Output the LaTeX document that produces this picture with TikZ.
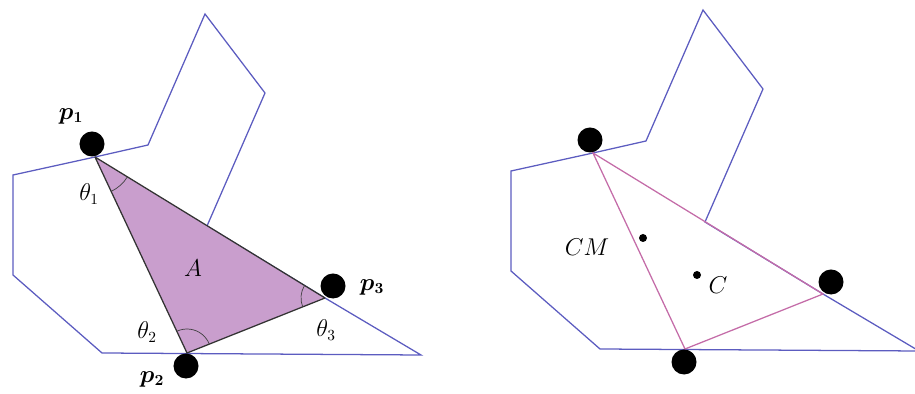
\documentclass[tikz,border=0pt]{standalone}
\usepackage{amsmath}
\usetikzlibrary{angles}
\definecolor{polyblue}{RGB}{92,92,192}
\definecolor{trifill}{RGB}{201,158,205}
\definecolor{triedge}{RGB}{196,108,168}

\begin{document}
\begin{tikzpicture}[x=0.025cm, y=0.025cm,
    every node/.style={font=\fontsize{16}{18}\selectfont},
    outline/.style={draw=polyblue, line width=0.9pt},
    vertexdot/.style={circle, fill=black, minimum size=0.625cm, inner sep=0pt},
    smalldot/.style={circle, fill=black, minimum size=0.2cm, inner sep=0pt},
    anglearc/.style={draw=black!75, line width=0.5pt}]
    \useasboundingbox (0,0) rectangle (915,394);
    % left panel: triangle with its angles
    \draw[outline] (205,380) -- (265,301) -- (207,168) -- (325,96) -- (421,39) -- (102,41)
        -- (13,119) -- (13,219) -- (95,237) -- (148,249) -- cycle;
    \coordinate (v1) at (95,237);
    \coordinate (v2) at (187,41);
    \coordinate (v3) at (325,96);
    \draw[fill=trifill, draw=black!80, line width=0.9pt, line join=round] (v1) -- (v2) -- (v3) -- cycle;
    \pic[anglearc, angle radius=0.95cm] {angle = v2--v1--v3};
    \pic[anglearc, angle radius=0.6cm] {angle = v3--v2--v1};
    \pic[anglearc, angle radius=0.6cm] {angle = v1--v3--v2};
    \node[vertexdot] (p1) at (92,250) {};
    \node[vertexdot] (p2) at (186,28) {};
    \node[vertexdot] (p3) at (333,108) {};
    \node (lp1) at (71,278) {$\boldsymbol{p_1}$};
    \node (lp2) at (152,15) {$\boldsymbol{p_2}$};
    \node (lp3) at (372,107) {$\boldsymbol{p_3}$};
    \node (th1) at (89,200) {$\theta_1$};
    \node (th2) at (147,62) {$\theta_2$};
    \node (th3) at (326,64) {$\theta_3$};
    \node (area) at (193,126) {$A$};

    % right panel: centroid and centre of mass
    \begin{scope}[shift={(498,4)}]
        \draw[outline] (205,380) -- (265,301) -- (207,168) -- (325,96) -- (421,39) -- (102,41)
            -- (13,119) -- (13,219) -- (95,237) -- (148,249) -- cycle;
        \coordinate (w1) at (95,237);
        \coordinate (w2) at (187,41);
        \coordinate (w3) at (325,96);
        \draw[triedge, line width=0.9pt] (w1) -- (w2) -- (w3) -- cycle;
        \node[vertexdot] (q1) at (92,250) {};
        \node[vertexdot] (q2) at (186,28) {};
        \node[vertexdot] (q3) at (333,108) {};
    \end{scope}
    \node[smalldot] (cm) at (643,156) {};
    \node[smalldot] (cen) at (697,119) {};
    \node (lcm) at (587,147) {$CM$};
    \node (lcen) at (718,109) {$C$};
\end{tikzpicture}
\end{document}
